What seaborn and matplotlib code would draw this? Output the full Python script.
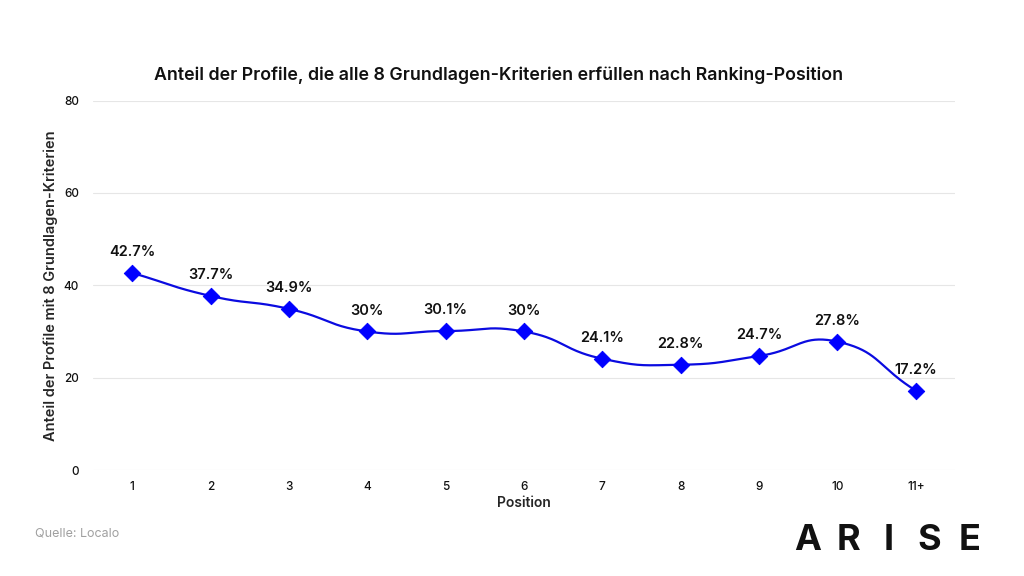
import numpy as np
import pandas as pd
import seaborn as sns
import matplotlib.pyplot as plt

positions = ["1", "2", "3", "4", "5", "6", "7", "8", "9", "10", "11+"]
anteil = [42.7, 37.7, 34.9, 30.0, 30.1, 30.0, 24.1, 22.8, 24.7, 27.8, 17.2]
labels = ["42.7%", "37.7%", "34.9%", "30%", "30.1%", "30%", "24.1%", "22.8%", "24.7%", "27.8%", "17.2%"]

sns.set_theme(style="white")
plt.rcParams['font.family'] = ['Inter', 'DejaVu Sans']

fig = plt.figure(figsize=(10.24, 5.76), dpi=100)
ax = fig.add_axes([0.0908, 0.184, 0.8418, 0.6413])
ax.set_xlim(-0.5, len(positions) - 0.5)
ax.set_ylim(0, 80)

df = pd.DataFrame({"x": np.arange(len(positions)), "y": anteil})

# smooth curve (bezier control points in screen space, echarts-like)
pts = ax.transData.transform(np.column_stack([df.x, df.y]))
smooth = 0.5
curve = []
n = len(pts)
cps = []
for i in range(n):
    p = pts[i]
    prev = pts[i - 1] if i > 0 else p
    nxt = pts[i + 1] if i < n - 1 else p
    v = (nxt - prev) * smooth
    d0 = np.linalg.norm(p - prev)
    d1 = np.linalg.norm(nxt - p)
    s = d0 + d1 if d0 + d1 > 0 else 1
    cps.append((p - v * d0 / s, p + v * d1 / s))
t = np.linspace(0, 1, 40)[:, None]
for i in range(n - 1):
    p0, p3 = pts[i], pts[i + 1]
    c1, c2 = cps[i][1], cps[i + 1][0]
    seg = (1 - t) ** 3 * p0 + 3 * (1 - t) ** 2 * t * c1 + 3 * (1 - t) * t ** 2 * c2 + t ** 3 * p3
    curve.append(seg)
curve = ax.transData.inverted().transform(np.vstack(curve))
sns.lineplot(x=curve[:, 0], y=curve[:, 1], ax=ax, color="#0b0be0", linewidth=1.6, sort=False)
sns.scatterplot(data=df, x="x", y="y", ax=ax, marker="D", s=70, color="#0000ff",
                edgecolor="#0000ff", zorder=5)

for xi, yi, lab in zip(df.x, df.y, labels):
    ax.annotate(lab, (xi, yi), xytext=(0, 10), textcoords="offset points",
                ha="center", va="bottom", fontsize=10.5, fontweight="semibold", color="#111111")

ax.set_xticks(range(len(positions)))
ax.set_xticklabels(positions, fontweight="medium")
ax.set_yticks([0, 20, 40, 60, 80])
ax.set_yticklabels(["0", "20", "40", "60", "80"], fontweight="medium")
ax.tick_params(axis="both", length=0, labelsize=8.5, colors="#111111")
ax.tick_params(axis="x", pad=8)
ax.tick_params(axis="y", pad=10)
ax.grid(axis="y", color="#e6e6e6", linewidth=0.8)
sns.despine(ax=ax, left=True, bottom=True)
ax.set_xlabel("Position", fontsize=10, fontweight="semibold", labelpad=2)
ax.set_ylabel("Anteil der Profile mit 8 Grundlagen-Kriterien", fontsize=10.5, fontweight="semibold", labelpad=4)

fig.text(0.487, 0.870, "Anteil der Profile, die alle 8 Grundlagen-Kriterien erfüllen nach Ranking-Position",
         ha="center", va="center", fontsize=12.8, fontweight="semibold", color="#111111")
fig.text(0.034, 0.074, "Quelle: Localo", ha="left", va="center", fontsize=9, color="#a0a0a0")
for k, ch in enumerate("ARISE"):
    fig.text(0.789 + k * 0.0395, 0.062, ch, ha="center", va="center", fontsize=26,
             fontweight="bold", color="#111111")

fig.savefig("out.png", dpi=100)
